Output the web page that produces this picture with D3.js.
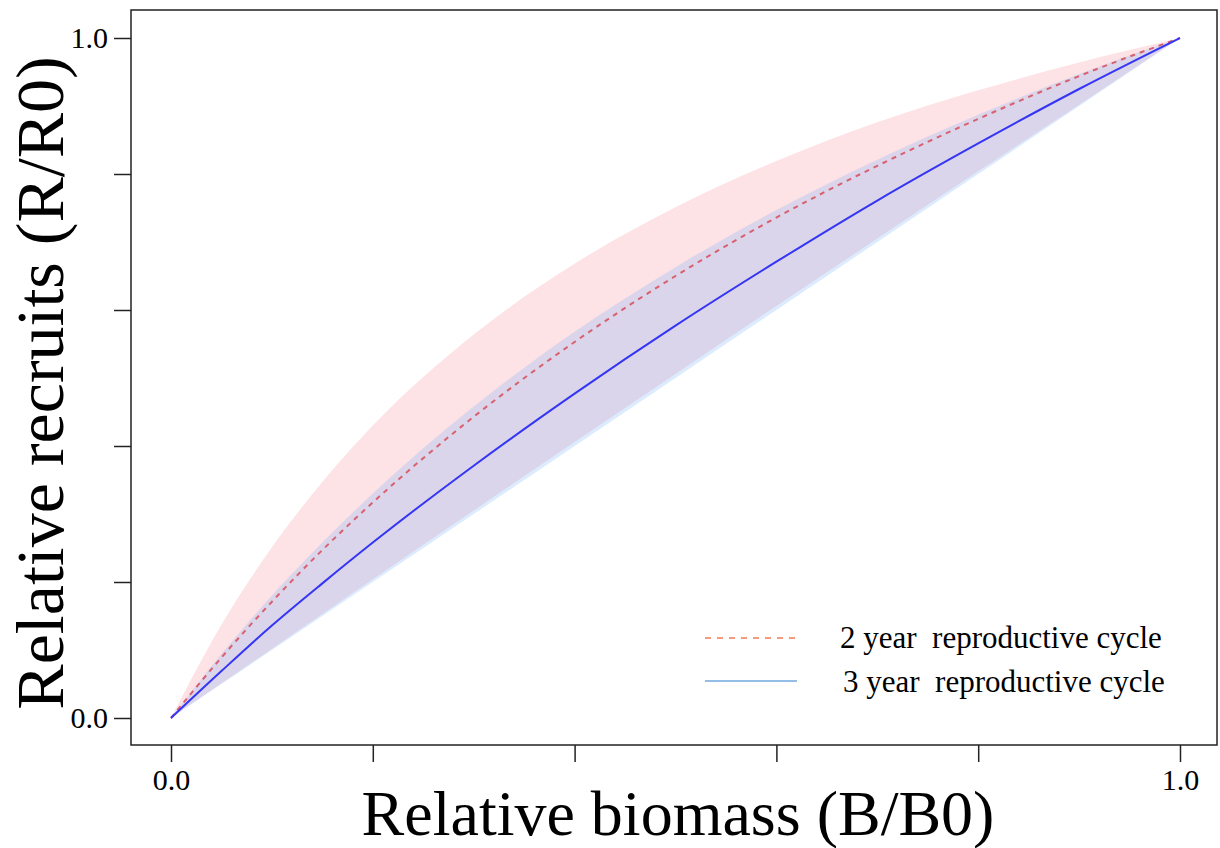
<!DOCTYPE html>
<html>
<head>
<meta charset="utf-8">
<script src="https://cdn.jsdelivr.net/npm/d3@7"></script>
<style>
  body { margin: 0; background: #fff; }
  svg { display: block; }
  text { font-family: "Liberation Serif", "Times New Roman", serif; fill: #000; }
</style>
</head>
<body>
<div class="d3-chart"></div>
<script>
// values
const biomass = [0, 0.05, 0.1, 0.15, 0.2, 0.3, 0.4, 0.5, 0.6, 0.7, 0.8, 0.9, 1.0];
const cycle2Mid   = [0, 0.089, 0.171, 0.247, 0.317, 0.443, 0.553, 0.650, 0.736, 0.812, 0.881, 0.944, 1];
const cycle2Upper = [0, 0.137, 0.251, 0.347, 0.430, 0.564, 0.668, 0.751, 0.819, 0.876, 0.923, 0.964, 1];
const cycle2Lower = [0, 0.051, 0.102, 0.153, 0.204, 0.305, 0.406, 0.506, 0.606, 0.705, 0.804, 0.902, 1];
const cycle3Mid   = [0, 0.069, 0.136, 0.198, 0.258, 0.371, 0.477, 0.577, 0.671, 0.761, 0.845, 0.925, 1];
const cycle3Upper = [0, 0.094, 0.180, 0.258, 0.330, 0.458, 0.568, 0.663, 0.747, 0.821, 0.887, 0.947, 1];
const cycle3Lower = [0, 0.050, 0.100, 0.150, 0.200, 0.300, 0.400, 0.500, 0.600, 0.700, 0.800, 0.900, 1];
const tickVals = [0, 0.2, 0.4, 0.6, 0.8, 1.0];
const labelled = [0, 1.0];
const seriesNames = ["2 year  reproductive cycle", "3 year  reproductive cycle"];

const W = 1220, H = 848;
const box = {left: 131, right: 1217, top: 10, bottom: 745};

const svg = d3.select(".d3-chart")
  .append("svg")
  .attr("width", W)
  .attr("height", H);

const x = d3.scaleLinear().domain([0, 1]).range([171, 1180]);
const y = d3.scaleLinear().domain([0, 1]).range([718, 38]);

const rows = (lo, mid, hi) => biomass.map((b, i) => ({b, lo: lo[i], mid: mid[i], hi: hi[i]}));
const d2 = rows(cycle2Lower, cycle2Mid, cycle2Upper);
const d3y = rows(cycle3Lower, cycle3Mid, cycle3Upper);

const area = d3.area()
  .x(d => x(d.b)).y0(d => y(d.lo)).y1(d => y(d.hi))
  .curve(d3.curveMonotoneX);
const line = d3.line()
  .x(d => x(d.b)).y(d => y(d.mid))
  .curve(d3.curveMonotoneX);

// bands
svg.append("path").datum(d2).attr("d", area).attr("fill", "#fde2e6");
svg.append("path").datum(d3y).attr("d", area).attr("fill", "rgba(117,175,246,0.25)");

// lines
svg.append("path").datum(d2).attr("d", line)
  .attr("fill", "none").attr("stroke", "#d9606f")
  .attr("stroke-width", 2).attr("stroke-dasharray", "5,5");
svg.append("path").datum(d3y).attr("d", line)
  .attr("fill", "none").attr("stroke", "#3535f5")
  .attr("stroke-width", 2);

// frame
svg.append("rect")
  .attr("x", box.left).attr("y", box.top)
  .attr("width", box.right - box.left).attr("height", box.bottom - box.top)
  .attr("fill", "none").attr("stroke", "#222").attr("stroke-width", 1.5);

const fmt = d => labelled.includes(d) ? d3.format(".1f")(d) : "";

const yAxis = svg.append("g")
  .attr("transform", `translate(${box.left},0)`)
  .call(d3.axisLeft(y).tickValues(tickVals).tickSize(17).tickPadding(6).tickFormat(fmt));
const xAxis = svg.append("g")
  .attr("transform", `translate(0,${box.bottom})`)
  .call(d3.axisBottom(x).tickValues(tickVals).tickSize(17).tickPadding(7).tickFormat(fmt));

[yAxis, xAxis].forEach(g => {
  g.select(".domain").remove();
  g.selectAll("line").attr("stroke", "#222").attr("stroke-width", 1.5);
  g.selectAll("text").attr("font-size", 30).attr("font-family", "Liberation Serif").attr("fill", "#000");
});

// axis titles
svg.append("text")
  .attr("x", 678).attr("y", 835)
  .attr("text-anchor", "middle")
  .attr("font-size", 64)
  .text("Relative biomass (B/B0)");

svg.append("text")
  .attr("transform", "translate(63,383) rotate(-90)")
  .attr("text-anchor", "middle")
  .attr("font-size", 68)
  .text("Relative recruits (R/R0)");

// legend
const legend = svg.append("g");
const legendRows = [
  {name: seriesNames[0], color: "#f07a55", dash: "6,6", ly: 638, ty: 648, tx: 840},
  {name: seriesNames[1], color: "#6fa8e0", dash: null, ly: 681, ty: 692, tx: 843}
];
legendRows.forEach(r => {
  legend.append("line")
    .attr("x1", 705).attr("x2", 797).attr("y1", r.ly).attr("y2", r.ly)
    .attr("stroke", r.color).attr("stroke-width", 1.5)
    .attr("stroke-dasharray", r.dash);
  legend.append("text")
    .attr("x", r.tx).attr("y", r.ty)
    .attr("font-size", 31)
    .style("white-space", "pre")
    .text(r.name);
});
</script>
</body>
</html>
